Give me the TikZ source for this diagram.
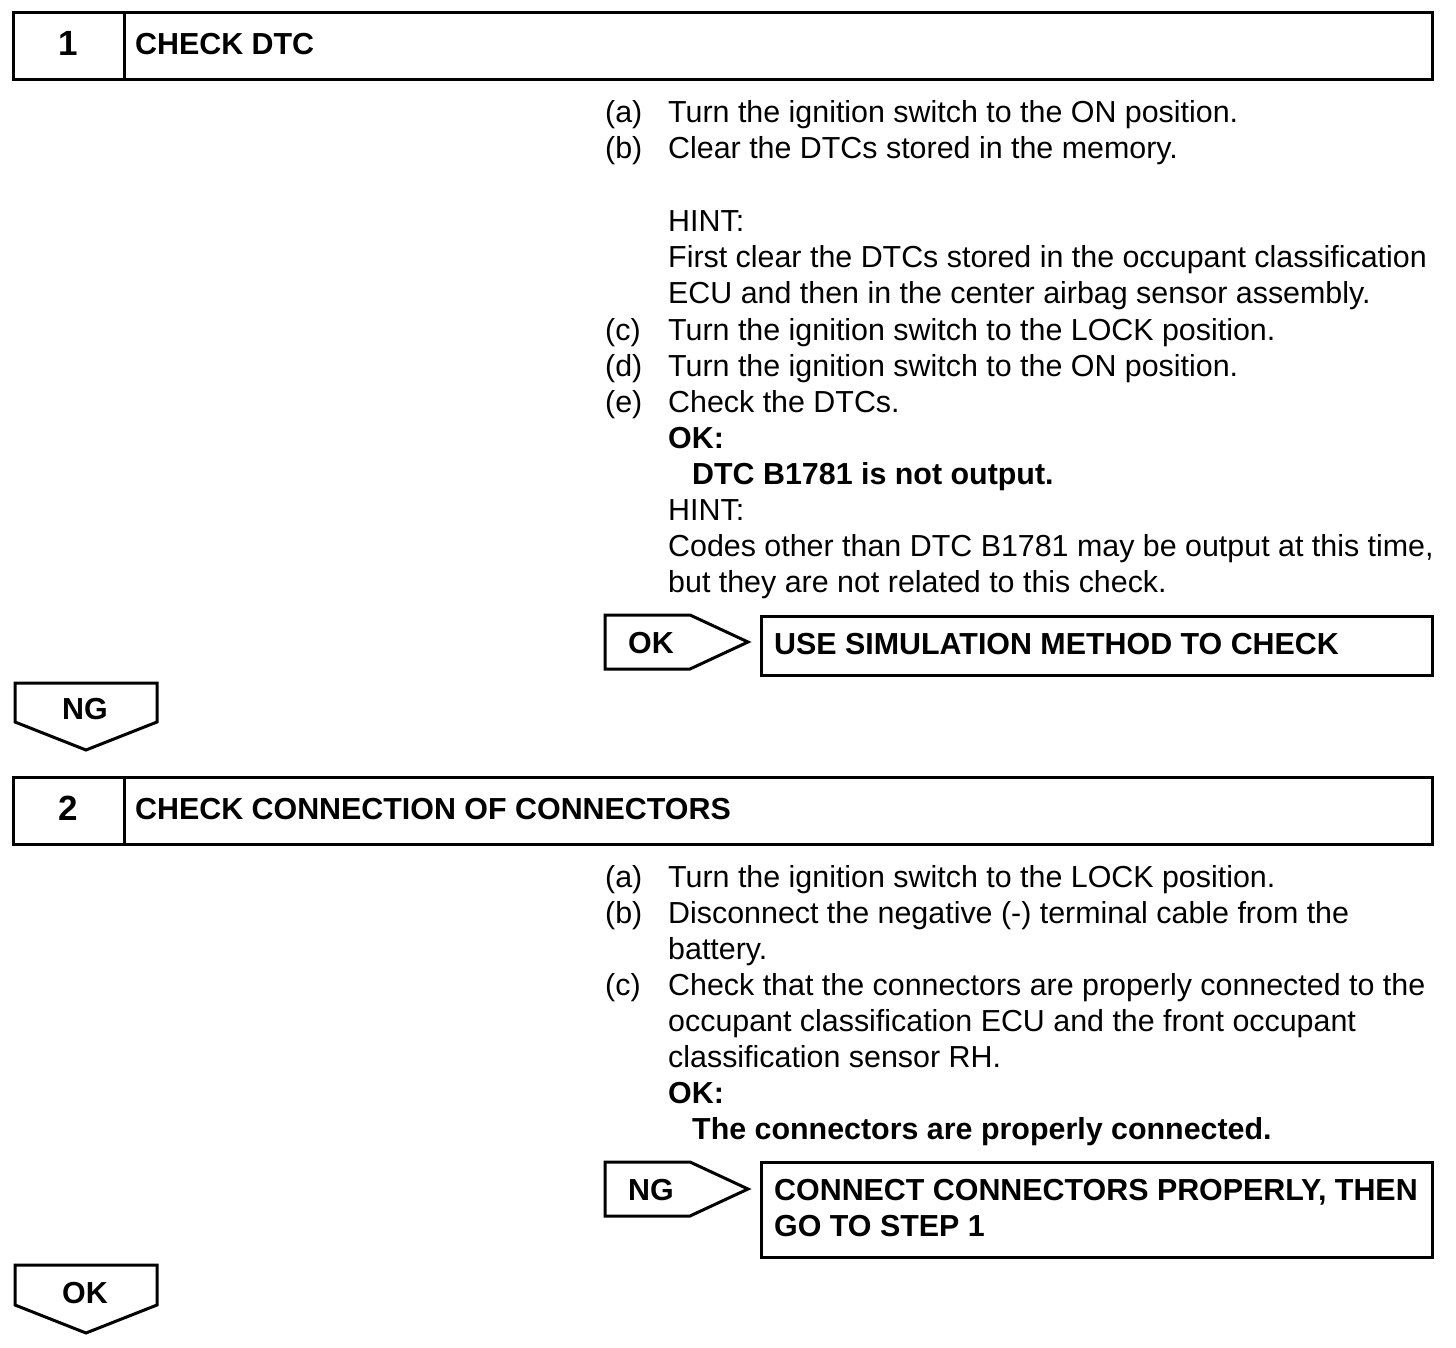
\documentclass[tikz,border=0pt]{standalone}
\usepackage{fontspec}
\setmainfont{Liberation Sans}
\begin{document}
\begin{tikzpicture}[x=1pt,y=-1pt,
  txt/.style={anchor=base west, inner sep=0pt, font=\fontsize{30.4}{36}\selectfont},
  btxt/.style={anchor=base west, inner sep=0pt, font=\fontsize{30.4}{36}\selectfont\bfseries},
  ctxt/.style={anchor=base, inner sep=0pt, font=\fontsize{30.4}{36}\selectfont\bfseries},
  numtxt/.style={anchor=base, inner sep=0pt, font=\fontsize{35}{40}\selectfont\bfseries},
  frame/.style={draw=black, line width=3pt, line join=miter},
  cell/.style={frame, rectangle, inner sep=0pt, outer sep=0pt}]
\useasboundingbox (0,0) rectangle (1456,1348);
\fill[white] (0,0) rectangle (1456,1348);

% ---------- Step 1 header
\node[cell, minimum width=111pt, minimum height=67pt] (num1) at (68.5,46.5) {};
\node[cell, minimum width=1308pt, minimum height=67pt] (title1) at (778,46.5) {};
\node[numtxt] (n1) at (68,56) {1};
\node[btxt] (h1) at (135,55) {CHECK DTC};

% ---------- Step 1 text
\node[txt] (s1a) at (605,123) {(a)};
\node[txt] (s1at) at (668,123) {Turn the ignition switch to the ON position.};
\node[txt] (s1b) at (605,159) {(b)};
\node[txt] (s1bt) at (668,159) {Clear the DTCs stored in the memory.};
\node[txt] (s1h) at (668,232) {HINT:};
\node[txt] (s1h1) at (668,268) {First clear the DTCs stored in the occupant classification};
\node[txt] (s1h2) at (668,304) {ECU and then in the center airbag sensor assembly.};
\node[txt] (s1c) at (605,340) {(c)};
\node[txt] (s1ct) at (668,340) {Turn the ignition switch to the LOCK position.};
\node[txt] (s1d) at (605,376) {(d)};
\node[txt] (s1dt) at (668,376) {Turn the ignition switch to the ON position.};
\node[txt] (s1e) at (605,412) {(e)};
\node[txt] (s1et) at (668,412) {Check the DTCs.};
\node[btxt] (s1ok) at (668,448) {OK:};
\node[btxt] (s1okt) at (692,484) {DTC B1781 is not output.};
\node[txt] (s1h3) at (668,520) {HINT:};
\node[txt] (s1h4) at (668,556) {Codes other than DTC B1781 may be output at this time,};
\node[txt] (s1h5) at (668,592) {but they are not related to this check.};

% ---------- Step 1 OK result
\draw[frame] (605,615) -- (690,615) -- (748,642) -- (690,669) -- (605,669) -- cycle;
\node[btxt] (ok1) at (628,653) {OK};
\node[cell, minimum width=671pt, minimum height=59pt] (res1) at (1096.5,645.5) {};
\node[btxt] (res1t) at (774,654) {USE SIMULATION METHOD TO CHECK};

% ---------- NG down arrow
\draw[frame] (15,683) -- (157,683) -- (157,722) -- (86,750) -- (15,722) -- cycle;
\node[ctxt] (ng1) at (85,719) {NG};

% ---------- Step 2 header
\node[cell, minimum width=111pt, minimum height=67pt] (num2) at (68.5,810.5) {};
\node[cell, minimum width=1308pt, minimum height=67pt] (title2) at (778,810.5) {};
\node[numtxt] (n2) at (68,820) {2};
\node[btxt] (h2) at (135,819) {CHECK CONNECTION OF CONNECTORS};

% ---------- Step 2 text
\node[txt] (s2a) at (605,887) {(a)};
\node[txt] (s2at) at (668,887) {Turn the ignition switch to the LOCK position.};
\node[txt] (s2b) at (605,923) {(b)};
\node[txt] (s2bt) at (668,923) {Disconnect the negative (-) terminal cable from the};
\node[txt] (s2bt2) at (668,959) {battery.};
\node[txt] (s2c) at (605,995) {(c)};
\node[txt] (s2ct) at (668,995) {Check that the connectors are properly connected to the};
\node[txt] (s2ct2) at (668,1031) {occupant classification ECU and the front occupant};
\node[txt] (s2ct3) at (668,1067) {classification sensor RH.};
\node[btxt] (s2ok) at (668,1103) {OK:};
\node[btxt] (s2okt) at (692,1139) {The connectors are properly connected.};

% ---------- Step 2 NG result
\draw[frame] (605,1162) -- (690,1162) -- (748,1189) -- (690,1216) -- (605,1216) -- cycle;
\node[btxt] (ng2) at (628,1200) {NG};
\node[cell, minimum width=671pt, minimum height=95pt] (res2) at (1096.5,1209.5) {};
\node[btxt] (res2t) at (774,1200) {CONNECT CONNECTORS PROPERLY, THEN};
\node[btxt] (res2t2) at (774,1236) {GO TO STEP 1};

% ---------- OK down arrow
\draw[frame] (15,1265) -- (157,1265) -- (157,1305) -- (86,1333) -- (15,1305) -- cycle;
\node[ctxt] (ok2) at (85,1303) {OK};
\end{tikzpicture}
\end{document}
